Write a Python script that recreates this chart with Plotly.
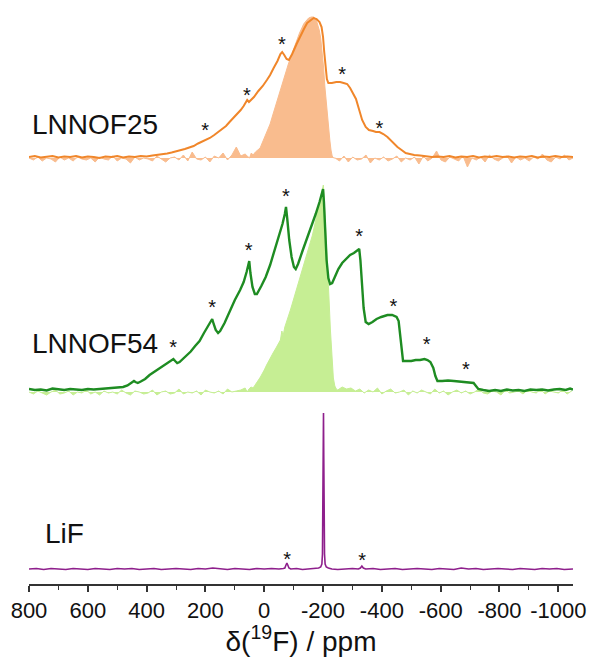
import numpy as np
import plotly.graph_objects as go

# ---------------- data (chemical shift in ppm, intensity in a.u.) ----------------
# LNNOF25 : full spectrum (line)
f25_ppm = [800,780,760,740,720,700,680,660,640,620,600,580,560,540,520,500,480,460,440,420,400,380,360,345,330,315,300,285,270,255,240,225,210,201,195,185,170,161,145,130,118,105,92,80,70,62,58,52,45,35,20,5,-9,-20,-32,-45,-55,-61,-68,-76,-84,-95,-110,-123,-135,-146,-158,-168,-178,-188,-195,-200,-204,-208,-213,-218,-230,-245,-258,-270,-282,-292,-302,-312,-322,-333,-345,-356,-370,-380,-392,-405,-419,-435,-453,-467,-481,-495,-510,-530,-550,-570,-590,-610,-630,-650,-670,-690,-710,-730,-750,-770,-790,-810,-830,-850,-870,-890,-910,-930,-950,-970,-990,-1010,-1030,-1050]
f25_int = [0,1,-0.5,0.5,1,-0.5,0.5,0,1,-0.5,0.5,0,-1,0.5,0,1,-0.5,0.5,0,1,0.5,1.5,2,3,3.5,4.5,5.5,7,8,9.5,11,13.5,15.5,17,17,19,22,24,27,31,35,39,43,47,51,55,57,55,57,60,66,71,77,82,89,96,103,105,102,98,97,103,113,120,128,134,137,139,138,135,130,120,105,90,78,74,74,75,75,74,73,69,64,58,48,37,30,27,26,25,25,23,20,15,10,7,4,3,2,1.5,1,0,0.5,0,1,-0.5,0.5,0,1,-0.5,0.5,0,1,0,0.5,-0.5,0.5,0,1,-0.5,0.5,0,1,0,0.5,0]

# LNNOF25 : central band (filled)
f25c_left_noise = [0,-2,1,-3,0,-1,-4,1,-2,0,-3,1,-1,-2,0,-4,1,-1,-2,2,-3,0,-1,-5,1,-2,0,-1,-3,2,-1,-4,0,1,-2,3,-3,6,-1,-2,1,-4,2,0,5,-2,3,11,2,4]
f25c_ppm = [58,50,44,38,30,22,14,7,0,-8,-14,-20,-28,-36,-43,-50,-58,-66,-74,-82,-89,-97,-105,-112,-120,-128,-134,-142,-151,-160,-168,-176,-182,-187,-192,-197,-202,-206,-210,-215,-219,-223,-227,-231,-236]
f25c_int = [2,0,5,3,6,8,10,15,20,25,29,34,42,50,57,64,72,80,87,94,100,107,114,120,125,130,134,137,140,141,141,139,134,128,120,108,90,72,58,42,30,18,8,2,0]
f25c_right_noise = [0,-3,2,-4,1,-2,-1,3,-5,0,-2,1,-3,-1,2,-4,0,-2,1,-6,2,-3,0,7,-2,-4,1,-1,-3,2,-9,0,-2,1,-4,3,-1,-3,0,2,-5,1,-2,0,-3,1,-1,4,-2,-4,1,-1,3,-2,0]

# LNNOF54 : full spectrum (line)
f54_ppm = [800,780,760,740,720,700,680,660,640,620,600,580,560,540,520,500,480,465,450,443,438,430,420,405,390,375,360,345,330,318,309,303,296,288,275,262,250,235,220,205,192,182,177,172,165,157,150,135,116,100,82,70,60,54,51,47,40,32,25,10,-5,-20,-35,-50,-62,-70,-74,-78,-85,-93,-101,-107,-115,-130,-145,-160,-175,-188,-197,-200,-203,-207,-212,-218,-224,-231,-240,-252,-265,-278,-292,-305,-316,-323,-327,-332,-338,-345,-355,-368,-382,-398,-419,-435,-450,-457,-462,-467,-472,-485,-500,-515,-530,-545,-555,-565,-575,-582,-589,-605,-625,-645,-665,-685,-700,-712,-720,-728,-745,-765,-785,-805,-825,-845,-865,-885,-905,-925,-945,-965,-985,-1005,-1025,-1040,-1050]
f54_int = [1,0,0.5,-0.5,1.5,0.5,0,1,0.5,0,1,0.5,1,1.5,2,2.5,3,4.5,7,9,8,7,8.5,11,15,18,21,24,27,29,31,29,27,28,31.5,35,38.5,44,49,57,63,68,71,66,60,57,59,67,80,90,100,108,118,127,129,117,103,96,96,104,113,125,140,153,166,176,183,172,150,133,123,121,126,139,151,163,176,188,197,201,188,160,130,112,106,107,113,121,127,131,135,137,139,141,130,105,82,68,66,68,71,73,75,75,73,69,55,38,29,29,29,30,30,31,30,28,22,14,9,9,9.5,9,8.5,8,8,7,4,1,0,-1,0,-1,0.5,-0.5,0,-1,0.5,0,0.5,-0.5,0.5,1,0,1.5,0.5]

# LNNOF54 : central band (filled)
f54c_left_noise = [0,-2,1,-1,-3,0,2,-2,-1,1,-3,0,-1,2,-2,0,-3,1,-1,0,-2,2,-1,-3,1,0,-2,-1,2,-3,0,1,-2,-1,3,-2,0,-1,1,-3,2,0,-1,1,-2,3,0,1,2,4]
f54c_ppm = [58,52,45,38,30,22,13,5,0,-8,-15,-21,-30,-40,-48,-55,-60,-64,-70,-80,-89,-97,-105,-110,-114,-123,-131,-140,-148,-157,-164,-170,-177,-184,-190,-195,-199,-201,-204,-208,-212,-216,-220,-225,-230,-235,-240,-245]
f54c_int = [0,3,5,4,8,11,15,19,22,27,31,35,39,44,48,52,61,56,65,73,82,90,98,101,106,115,123,132,140,149,157,165,175,185,192,198,205,207,192,170,152,125,95,62,35,14,6,3]
f54c_right_noise = [2,5,3,4,1,3,-1,2,0,4,-2,1,3,-1,0,2,-3,1,-1,2,0,-2,3,-1,1,-3,0,2,-1,1,-2,0,3,-1,-2,1,0,-3,2,-1,0,1,-2,2,0,-1,3,-2,1,0,-1,2,-2,1]

# LiF
lif_ppm = [800,775,750,725,700,675,650,625,600,575,550,525,500,475,450,425,400,375,350,325,300,275,250,225,200,175,150,125,100,75,50,25,0,-25,-50,-65,-70,-74,-77,-80,-84,-90,-110,-130,-150,-170,-185,-192,-196,-198,-199.5,-200.5,-201.5,-202.5,-203.5,-205,-207,-211,-218,-230,-250,-275,-300,-320,-327,-332,-337,-345,-370,-395,-420,-445,-470,-495,-520,-545,-570,-595,-620,-645,-670,-695,-720,-745,-770,-795,-820,-845,-870,-895,-920,-945,-970,-995,-1020,-1050]
lif_int = [0,0.5,-0.5,0.5,0,-0.5,0.5,0,-0.5,0.5,0,-0.5,0.5,0,0.5,-0.5,0,0.5,-0.5,0,0.5,0,-0.5,0.5,0,1,0,-0.5,0.5,0,-0.5,0.5,0,0.5,0,0.5,1,4,6,4,1,0,0.5,-0.5,0,0.5,1,2,5,15,50,110,156,110,50,15,5,2,1,0,-0.5,0,0.5,0,1,3,1,0,0.5,-0.5,0,0.5,-0.5,0,0.5,0,-0.5,0.5,0,-0.5,1,0,0.5,-0.5,0,0.5,0,-0.5,0.5,0,-0.5,0.5,0,0.5,-0.5,0]

# spinning side-band markers (ppm, height above the spectrum baseline)
stars25_ppm = [201, 59, -60, -265, -392]
stars25_h = [28.7, 63.7, 115.3, 85.3, 31]
stars54_ppm = [310, 177, 53, -73.5, -323, -439, -552.6, -685.6]
stars54_h = [45, 85, 141.7, 196, 156, 86, 47.7, 23.3]
starsLiF_ppm = [-77.6, -333]
starsLiF_h = [12.3, 10.7]

labels = ["LNNOF25", "LNNOF54", "LiF"]
tick_vals = [800, 600, 400, 200, 0, -200, -400, -600, -800, -1000]
tick_text = ["800", "600", "400", "200", "0", "-200", "-400", "-600", "-800", "-1000"]

# ---------------- layout / style ----------------
OFF25, OFF25C = 427, 426
OFF54, OFF54C = 194, 192
OFFLIF = 15
STEP = 15
STAR_DY = 4

C_OR, C_ORF = "#F0862A", "#F9BC8E"
C_GR, C_GRF = "#1E8C22", "#C6EE94"
C_PU = "#8E1F8C"

def assemble(left_noise, mid_ppm, mid_int, right_noise):
    lx = [800 - STEP * i for i in range(len(left_noise))]
    rx = [mid_ppm[-1] - 5 - STEP * i for i in range(len(right_noise))]
    rx = [max(v, -1050) for v in rx]
    return lx + list(mid_ppm) + rx, list(left_noise) + list(mid_int) + list(right_noise)

fig = go.Figure()

def add_fill(x, y, off, color):
    x = np.array(x, dtype=float)
    y = np.array(y, dtype=float) + off
    fig.add_trace(go.Scatter(x=x, y=np.full_like(x, off), mode="lines",
                             line=dict(width=0, color=color), hoverinfo="skip", showlegend=False))
    fig.add_trace(go.Scatter(x=x, y=y, mode="lines", fill="tonexty", fillcolor=color,
                             line=dict(width=1, color=color), showlegend=False))

def add_line(x, y, off, color, w):
    fig.add_trace(go.Scatter(x=x, y=np.array(y, dtype=float) + off, mode="lines",
                             line=dict(width=w, color=color), showlegend=False))

def add_stars(x, h, off):
    fig.add_trace(go.Scatter(x=x, y=np.array(h) + off - STAR_DY, mode="text", text=["*"] * len(x),
                             textposition="middle center",
                             textfont=dict(size=20, color="#111111", family="Liberation Sans"),
                             showlegend=False))

x25c, y25c = assemble(f25c_left_noise, f25c_ppm, f25c_int, f25c_right_noise)
add_fill(x25c, y25c, OFF25C, C_ORF)
add_line(f25_ppm, f25_int, OFF25, C_OR, 2)

x54c, y54c = assemble(f54c_left_noise, f54c_ppm, f54c_int, f54c_right_noise)
add_fill(x54c, y54c, OFF54C, C_GRF)
add_line(f54_ppm, f54_int, OFF54, C_GR, 2.4)

add_line(lif_ppm, lif_int, OFFLIF, C_PU, 1.6)

add_stars(stars25_ppm, stars25_h, OFF25)
add_stars(stars54_ppm, stars54_h, OFF54)
add_stars(starsLiF_ppm, starsLiF_h, OFFLIF)

label_pos = [(797, 460), (795, 241), (754, 51)]
for txt, (lx, ly) in zip(labels, label_pos):
    fig.add_annotation(x=lx, y=ly, text=txt, showarrow=False, xanchor="left", yanchor="middle",
                       font=dict(size=28, color="#111111", family="Liberation Sans"))

fig.update_layout(
    width=590, height=657,
    margin=dict(l=29, r=17, t=0, b=73),
    paper_bgcolor="white", plot_bgcolor="white",
    font=dict(family="Liberation Sans", color="#111111"),
    xaxis=dict(range=[800, -1050], showgrid=False, zeroline=False, automargin=False,
               showline=True, linecolor="#333333", linewidth=1.5,
               ticks="outside", ticklen=6, tickwidth=1.5, tickcolor="#333333",
               tickvals=tick_vals, ticktext=tick_text,
               tickfont=dict(size=22, color="#111111", family="Liberation Sans"),
               minor=dict(dtick=100, tick0=0, ticks="outside", ticklen=4, tickwidth=1.2, tickcolor="#333333"),
               title=dict(text="δ(<sup>19</sup>F) / ppm", standoff=2,
                          font=dict(size=28, color="#111111", family="Liberation Sans"))),
    yaxis=dict(range=[0, 584], visible=False, showgrid=False, zeroline=False, automargin=False),
)

fig.write_html("out.html", config={"displayModeBar": False},
               post_script="document.body.style.margin='0px';document.body.style.overflow='hidden';")
